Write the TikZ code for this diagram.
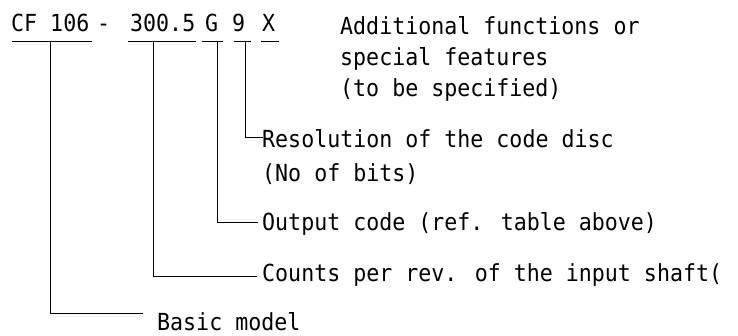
\documentclass[tikz,border=0pt]{standalone}
\usepackage{fontspec}
\newfontfamily\lblfamily[FakeStretch=0.92]{DejaVu Sans Mono}
\newcommand{\lblfont}{\lblfamily\fontsize{23.5}{27}\selectfont}
\begin{document}
\begin{tikzpicture}[x=1pt,y=-1pt,
  lbl/.style={anchor=base west, inner sep=0pt, font=\lblfont},
  wire/.style={line width=1pt, line cap=butt}]
\useasboundingbox (0,0) rectangle (738,336);
% code parts
\node[lbl] (cf)   at (11,32)  {CF 106};
\node[lbl] (dash) at (97,32)  {-};
\node[lbl] (rev)  at (130,32) {300.5};
\node[lbl] (g)    at (205,32) {G};
\node[lbl] (nine) at (232,32) {9};
\node[lbl] (x)    at (262,32) {X};
% underlines
\draw[wire] ([shift={(1,10)}]cf.base west)   -- ([shift={(3,10)}]cf.base east);
\draw[wire] ([shift={(-2,10)}]rev.base west) -- ([shift={(1,10)}]rev.base east);
\draw[wire] ([shift={(-3,10)}]g.base west)   -- ([shift={(5,10)}]g.base east);
\draw[wire] ([shift={(2,10)}]nine.base west) -- ([shift={(6,10)}]nine.base east);
\draw[wire] ([shift={(-1,10)}]x.base west)   -- ([shift={(4,10)}]x.base east);
% labels
\node[lbl] (add1) at (340,35)  {Additional functions or};
\node[lbl] (add2) at (340,66)  {special features};
\node[lbl] (add3) at (340,97)  {(to be specified)};
\node[lbl] (res1) at (262,148) {Resolution of the code disc};
\node[lbl] (res2) at (262,182) {(No of bits)};
\node[lbl] (out)  at (262,231) {Output code (ref. table above)};
\node[lbl] (cnt)  at (262,282) {Counts per rev. of the input shaft(};
\node[lbl] (bas)  at (157,330) {Basic model};
% connector start points (on the underlines)
\coordinate (s9)  at (245,42);
\coordinate (sg)  at (217,42);
\coordinate (srv) at (153,42);
\coordinate (scf) at (50,42);
% connector end points (just left of the labels)
\coordinate (e9)  at (263,138);
\coordinate (eg)  at (258,223);
\coordinate (erv) at (257,277);
\coordinate (ecf) at (143,313);
\draw[wire] (s9)  |- (e9);
\draw[wire] (sg)  |- (eg);
\draw[wire] (srv) |- (erv);
\draw[wire] (scf) |- (ecf);
\end{tikzpicture}
\end{document}
